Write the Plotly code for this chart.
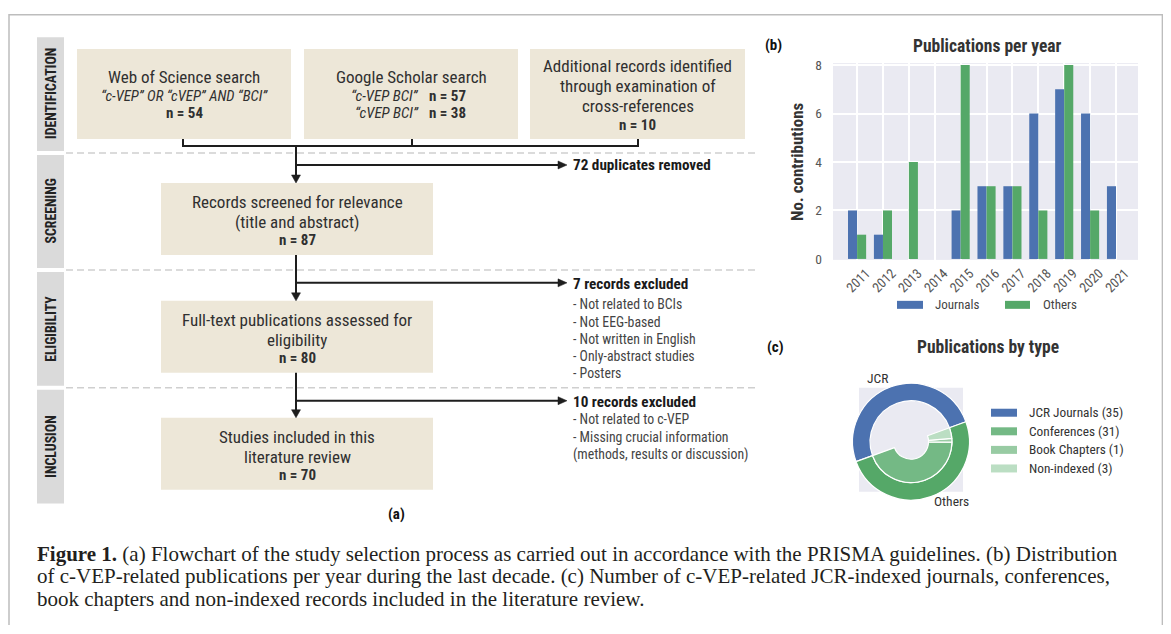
import plotly.graph_objects as go

# page has an 8px body margin; figure sized to fit the 1171x634 window
FW, FH = 1155, 617
# empirical vertical correction of the captured page (displayed = 0.98 * page + 6)
SY, OY = 0.98, 6.0


def X(px):
    return (px - 8) / FW


def Y(py):
    p = (py - OY) / SY
    return 1 - (p - 8) / FH


SANS = "Roboto Condensed, Roboto, sans-serif"
SERIF = "Liberation Serif, Times New Roman, serif"

# ---------------- data ----------------
years = ["2011", "2012", "2013", "2014", "2015", "2016", "2017", "2018", "2019", "2020", "2021"]
journals = [2, 1, 0, 0, 2, 3, 3, 6, 7, 6, 3]
others = [1, 2, 4, 0, 8, 3, 3, 2, 8, 2, 0]

outer_labels = ["JCR", "Others"]
outer_values = [35, 35]
inner_labels = ["JCR Journals", "Conferences", "Book Chapters", "Non-indexed"]
inner_values = [35, 31, 1, 3]

BLUE = "#4C72B0"
GREEN = "#55A868"
C_CONF = "#74B985"
C_BOOK = "#98CBA3"
C_NONI = "#BBDEC3"
BG = "#EAEAF2"
BEIGE = "#EDE7D8"
PHASE = "#DADADA"
DARK = "#1E1E1E"
TXT = "#303030"

fig = go.Figure()

# ---------------- bar chart (b) ----------------
fig.add_trace(go.Bar(x=years, y=journals, name="Journals", marker=dict(color=BLUE, line=dict(width=0)),
                     showlegend=False, hoverinfo="skip"))
fig.add_trace(go.Bar(x=years, y=others, name="Others", marker=dict(color=GREEN, line=dict(width=0)),
                     showlegend=False, hoverinfo="skip"))

# ---------------- donut (c) ----------------
cx, cy, R = 911, 442, 58.5
r_in = R * 0.7
fig.add_trace(go.Pie(
    labels=outer_labels, values=outer_values, hole=0.7, sort=False,
    direction="counterclockwise", rotation=-110,
    marker=dict(colors=[BLUE, GREEN], line=dict(color="white", width=1.2)),
    textinfo="none", hoverinfo="skip", showlegend=False,
    domain=dict(x=[X(cx - R), X(cx + R)], y=[Y(cy + R), Y(cy - R)]),
))
fig.add_trace(go.Pie(
    labels=inner_labels, values=inner_values, hole=0.3 / 0.7, sort=False,
    direction="counterclockwise", rotation=-110,
    marker=dict(colors=["rgba(0,0,0,0)", C_CONF, C_BOOK, C_NONI],
                line=dict(color="white", width=[0, 1.2, 1.2, 1.2])),
    textinfo="none", hoverinfo="skip", showlegend=False,
    domain=dict(x=[X(cx - r_in), X(cx + r_in)], y=[Y(cy + r_in), Y(cy - r_in)]),
))

shapes = []
annos = []


def rect(x0, y0, x1, y1, fill, line_color=None, lw=0, layer="below"):
    shapes.append(dict(type="rect", xref="paper", yref="paper", x0=X(x0), y0=Y(y0), x1=X(x1), y1=Y(y1),
                       fillcolor=fill, line=dict(color=line_color or fill, width=lw), layer=layer))


def line(x0, y0, x1, y1, color=DARK, lw=2, dash=None):
    d = dict(type="line", xref="paper", yref="paper", x0=X(x0), y0=Y(y0), x1=X(x1), y1=Y(y1),
             line=dict(color=color, width=lw), layer="above")
    if dash:
        d["line"]["dash"] = dash
    shapes.append(d)


def tri(points, color=DARK):
    p = "M " + " L ".join(f"{X(a)},{Y(b)}" for a, b in points) + " Z"
    shapes.append(dict(type="path", xref="paper", yref="paper", path=p, fillcolor=color,
                       line=dict(color=color, width=0.5), layer="above"))


def txt(px, py, text, size, color=TXT, xanchor="center", family=SANS, angle=0):
    annos.append(dict(x=X(px), y=Y(py), xref="paper", yref="paper", text=text, showarrow=False,
                      font=dict(size=size, color=color, family=family), xanchor=xanchor,
                      yanchor="middle", textangle=angle))


# outer frame
shapes.append(dict(type="rect", xref="paper", yref="paper", x0=X(9), y0=Y(14.6), x1=X(1162.4), y1=Y(700),
                   line=dict(color="#BDBDBD", width=1.5), fillcolor="rgba(0,0,0,0)", layer="below"))

# ---------------- flowchart (a) ----------------
phases = [("IDENTIFICATION", 37, 151), ("SCREENING", 155, 268), ("ELIGIBILITY", 272, 386), ("INCLUSION", 390, 504)]
for name, y0, y1 in phases:
    rect(37, y0, 64, y1, PHASE)
    txt(51, (y0 + y1) / 2, f"<b>{name}</b>", 13.8, color="#222222", angle=-90)

for yy in (153, 270, 388):
    line(66, yy, 757, yy, color="#CFCFCF", lw=1.5, dash="7px,4px")

# boxes
rect(77, 49, 291, 139, BEIGE)
rect(304, 49, 518, 139, BEIGE)
rect(530, 49, 745, 139, BEIGE)
rect(161, 183, 433, 255, BEIGE)
rect(161, 301, 433, 373, BEIGE)
rect(161, 418, 433, 490, BEIGE)

# connectors
line(183, 139, 183, 147)
line(412, 139, 412, 147)
line(638, 139, 638, 147)
line(182, 146, 639, 146)
line(296, 146, 296, 177)
line(296, 165, 560, 165)
line(296, 255, 296, 295)
line(296, 283, 560, 283)
line(296, 373, 296, 412)
line(296, 401, 560, 401)
for ty in (183, 301, 418):
    tri([(291.5, ty - 8), (300.5, ty - 8), (296, ty)])
for ty in (165, 283, 401):
    tri([(558, ty - 4), (558, ty + 4), (567, ty)])

MAIN = 17
NB = 15
# box text
txt(184, 77, "Web of Science search", MAIN)
txt(184, 96, "<i>“c-VEP” OR “cVEP” AND “BCI”</i>", 14.8)
txt(184, 113, "<b>n = 54</b>", NB)

txt(411, 77, "Google Scholar search", MAIN)
txt(421, 96, "<i>“c-VEP BCI”</i>", 15, xanchor="right")
txt(427, 96, "<b>n = 57</b>", NB, xanchor="left")
txt(421, 113, "<i>“cVEP BCI”</i>", 15, xanchor="right")
txt(427, 113, "<b>n = 38</b>", NB, xanchor="left")

txt(637.5, 66, "Additional records identified", MAIN)
txt(637.5, 86, "through examination of", MAIN)
txt(637.5, 106, "cross-references", MAIN)
txt(637.5, 125, "<b>n = 10</b>", NB)

txt(297, 202, "Records screened for relevance", MAIN)
txt(297, 222, "(title and abstract)", MAIN)
txt(297, 240, "<b>n = 87</b>", NB)

txt(297, 320, "Full-text publications assessed for", MAIN)
txt(297, 340, "eligibility", MAIN)
txt(297, 358, "<b>n = 80</b>", NB)

txt(297, 437, "Studies included in this", MAIN)
txt(297, 457, "literature review", MAIN)
txt(297, 475, "<b>n = 70</b>", NB)

txt(571, 165, "<b>72 duplicates removed</b>", 15.2, color="#1a1a1a", xanchor="left")
txt(571, 284, "<b>7 records excluded</b>", 15.2, color="#1a1a1a", xanchor="left")
excl1 = ["- Not related to BCIs", "- Not EEG-based", "- Not written in English",
         "- Only-abstract studies", "- Posters"]
for i, s in enumerate(excl1):
    txt(571, 304.5 + 17.2 * i, s, 13.8, color="#444444", xanchor="left")
txt(571, 402, "<b>10 records excluded</b>", 15.2, color="#1a1a1a", xanchor="left")
excl2 = ["- Not related to c-VEP", "- Missing crucial information", "(methods, results or discussion)"]
for i, s in enumerate(excl2):
    txt(571, 419.5 + 17.8 * i, s, 13.8, color="#444444", xanchor="left")

txt(396, 514, "<b>(a)</b>", 15, color="#111111")

# ---------------- panel (b) text ----------------
txt(773, 45, "<b>(b)</b>", 15, color="#111111")
txt(987, 46, "<b>Publications per year</b>", 17.5, color="#333333")
txt(797, 162, "<b>No. contributions</b>", 17, color="#333333", angle=-90)
rect(897, 301, 923, 309, BLUE, layer="above")
txt(933, 305, "Journals", 13, color="#444444", xanchor="left")
rect(1005, 301, 1030, 309, GREEN, layer="above")
txt(1041, 305, "Others", 13, color="#444444", xanchor="left")

# ---------------- panel (c) ----------------
txt(775, 347, "<b>(c)</b>", 15, color="#111111")
txt(988, 347, "<b>Publications by type</b>", 17.5, color="#333333")
rect(859, 388, 963, 492, BG)
txt(877, 378, "JCR", 13.5, color="#333333")
txt(951, 501, "Others", 13.5, color="#333333")
leg_cols = [BLUE, C_CONF, C_BOOK, C_NONI]
leg_txt = [f"{lab} ({v})" for lab, v in zip(inner_labels, [35, 31, 1, 3])]
for i, (c, t) in enumerate(zip(leg_cols, leg_txt)):
    yy = 413 + 18.6 * i
    rect(991, yy - 4, 1017, yy + 4, c, layer="above")
    txt(1027, yy, t, 13.3, color="#333333", xanchor="left")

# ---------------- caption ----------------
cap = [
    "<b>Figure 1.</b> (a) Flowchart of the study selection process as carried out in accordance with the PRISMA guidelines. (b) Distribution",
    "of c-VEP-related publications per year during the last decade. (c) Number of c-VEP-related JCR-indexed journals, conferences,",
    "book chapters and non-indexed records included in the literature review.",
]
for i, s in enumerate(cap):
    txt(35, 554 + 22.5 * i, s, 21, color="#231F20", xanchor="left", family=SERIF)

fig.update_layout(
    width=FW, height=FH, margin=dict(l=0, r=0, t=0, b=0),
    paper_bgcolor="white", plot_bgcolor=BG,
    barmode="group", bargap=0.3, bargroupgap=0,
    shapes=shapes, annotations=annos, showlegend=False,
    xaxis=dict(domain=[X(833), X(1138)], range=[-0.93, 10.85], type="category",
               showgrid=True, gridcolor="white", gridwidth=1.5, zeroline=False, showline=False,
               ticks="", tickangle=-45, tickfont=dict(family=SANS, size=13.5, color="#555555"),
               ticklabelshift=9, ticklabelstandoff=2, fixedrange=True),
    yaxis=dict(domain=[Y(260), Y(63)], range=[-0.04, 8.08], tickvals=[0, 2, 4, 6, 8],
               showgrid=True, gridcolor="white", gridwidth=1.5, zeroline=False, showline=False,
               ticks="", tickfont=dict(family=SANS, size=13.5, color="#555555"),
               ticklabelstandoff=10, fixedrange=True),
)

fig.write_html("out.html")
